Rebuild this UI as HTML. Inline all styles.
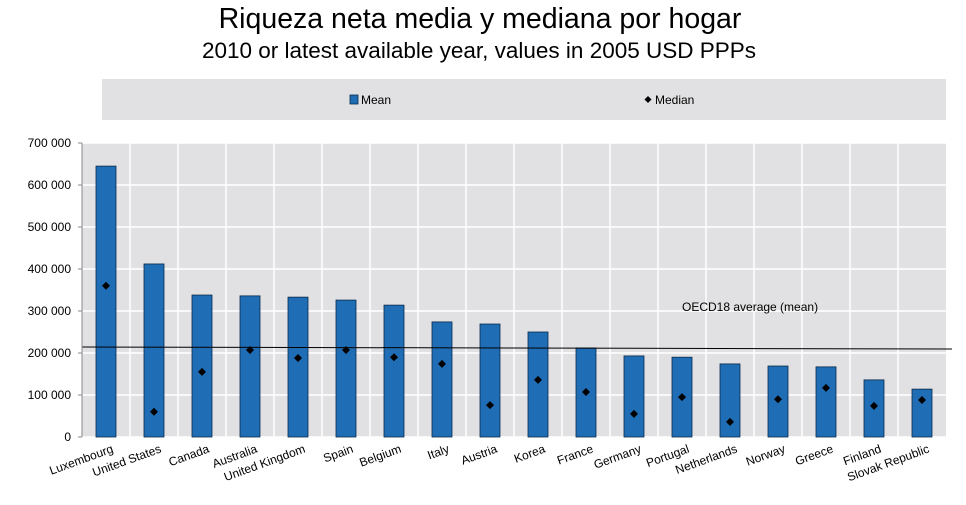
<!DOCTYPE html>
<html><head><meta charset="utf-8"><style>
body{margin:0;background:#fff;font-family:"Liberation Sans",Arial,sans-serif;}
</style></head><body>
<svg width="966" height="500" xmlns="http://www.w3.org/2000/svg">
<text x="480" y="28" text-anchor="middle" font-size="28.5" fill="#000">Riqueza neta media y mediana por hogar</text>
<text x="479" y="58" text-anchor="middle" font-size="22.5" fill="#000">2010 or latest available year, values in 2005 USD PPPs</text>
<rect x="102" y="79" width="844" height="41" fill="#e1e1e3"/>
<g><rect x="350" y="95" width="8" height="9" fill="#1f6db5" stroke="#0a2a4a" stroke-width="0.8"/><text x="361" y="104" font-size="12">Mean</text></g>
<g><path d="M648,96 l3.5,3.5 l-3.5,3.5 l-3.5,-3.5z" fill="#000"/><text x="655" y="104" font-size="12">Median</text></g>
<rect x="82" y="143" width="864" height="294" fill="#e1e1e3"/>
<g id="grid"></g><g id="yax"></g><g id="bars"></g><g id="meds"></g><g id="xl"></g>
<line x1="82" y1="347" x2="952" y2="349" stroke="#000" stroke-width="1"/>
<text x="682" y="311" font-size="12">OECD18 average  (mean)</text>
<line x1="82" y1="143" x2="82" y2="437" stroke="#888"/>
</svg>
<script>
const categories=["Luxembourg","United States","Canada","Australia","United Kingdom","Spain","Belgium","Italy","Austria","Korea","France","Germany","Portugal","Netherlands","Norway","Greece","Finland","Slovak Republic"];
const meanValues=[645000,412000,338000,336000,333000,326000,314000,274000,269000,250000,212000,193000,190000,174000,169000,167000,136000,114000];
const medianValues=[360000,60000,155000,207000,188000,207000,190000,174000,76000,136000,107000,55000,95000,36000,90000,117000,74000,88000];
const yTicks=[0,100000,200000,300000,400000,500000,600000,700000];
const yTickLabels=["0","100 000","200 000","300 000","400 000","500 000","600 000","700 000"];
const NS="http://www.w3.org/2000/svg";
const X0=82,W=864,Y0=437,H=294,YMAX=700000;
const band=W/categories.length;
const y=v=>Y0-v/YMAX*H;
const xc=i=>X0+band*(i+0.5);
function mk(t,a,p){const e=document.createElementNS(NS,t);for(const k in a)e.setAttribute(k,a[k]);document.getElementById(p).appendChild(e);return e;}
yTicks.forEach((t,i)=>{
 const g=mk("line",{x1:X0,x2:X0+W,y1:y(t),y2:y(t),stroke:"#fff","stroke-width":1.5},"grid");
 
 
 const tk=mk("line",{x1:X0-4,x2:X0,y1:y(t),y2:y(t),stroke:"#888"},"yax");
 
 
 const l=mk("text",{x:71,y:y(t)+4,"text-anchor":"end","font-size":12},"yax");
 l.textContent=yTickLabels[i];
 
 
});
categories.forEach((c,i)=>{
 if(i>0){const v=mk("line",{x1:X0+band*i,x2:X0+band*i,y1:Y0-H,y2:Y0,stroke:"#fff","stroke-width":1.5},"grid");
 
 }
 const b=mk("rect",{x:xc(i)-10,y:y(meanValues[i]),width:20,height:Y0-y(meanValues[i]),fill:"#1f6db5",stroke:"#0a2a4a","stroke-width":0.8},"bars");
 
 
 const my=y(medianValues[i]),mx=xc(i);
 const d=mk("path",{d:`M${mx},${my-4} l4,4 l-4,4 l-4,-4z`,fill:"#000"},"meds");
 
 
 const lx=xc(i)+8,ly=452;
 const t=mk("text",{x:lx,y:ly,"text-anchor":"end","font-size":12,transform:`rotate(-20 ${lx} ${ly})`},"xl");
 t.textContent=c;
 
 
});
</script>
</body></html>
